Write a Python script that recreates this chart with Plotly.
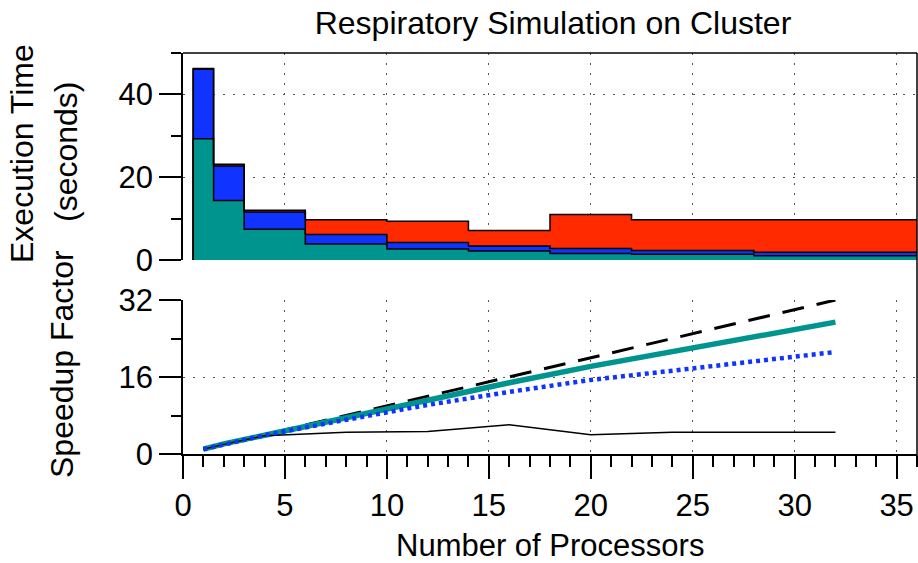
import plotly.graph_objects as go

# ---------------- data ----------------
procs = [1, 2, 4, 8, 12, 16, 20, 24, 32]
time_compute = [29.3, 14.4, 7.4, 3.85, 2.64, 2.16, 1.6, 1.37, 1.03]   # teal
time_second = [16.8, 8.3, 4.2, 2.3, 1.6, 1.2, 1.2, 0.93, 0.87]       # blue
time_comm = [0.15, 0.4, 0.4, 3.6, 5.1, 3.74, 8.2, 7.4, 7.85]          # red

speedup_ideal = [1, 2, 4, 8, 12, 16, 20, 24, 32]
speedup_compute = [1, 2.1, 3.9, 7.6, 11.1, 14.8, 18.2, 21.3, 27.4]
speedup_second = [1, 2.0, 3.9, 7.1, 10.2, 12.9, 15.4, 17.3, 21.2]
speedup_total = [1, 2.0, 3.8, 4.5, 4.7, 6.1, 4.0, 4.5, 4.5]

x_ticks = [0, 5, 10, 15, 20, 25, 30, 35]
top_ticks = [0, 20, 40]
bottom_ticks = [0, 16, 32]

TEAL = "#00948f"
BLUE = "#1133ff"
RED = "#ff2a00"
FONT = "Liberation Sans, Arial, Helvetica, sans-serif"

W, H = 918, 563
L, R, T = 183, 1, 53
PLOT_BOTTOM = 454
B = H - PLOT_BOTTOM
PW, PH = W - L - R, H - T - B

# bin edges: midpoints between processor counts
edges = [procs[0] - (procs[1] - procs[0]) / 2]
for a, b in zip(procs[:-1], procs[1:]):
    edges.append((a + b) / 2)
edges.append(procs[-1] + (procs[-1] - procs[-2]) / 2)

cum1 = list(time_compute)
cum2 = [a + b for a, b in zip(time_compute, time_second)]
cum3 = [a + b + c for a, b, c in zip(time_compute, time_second, time_comm)]

xs = [edges[0]] + edges


def step_y(vals):
    return [0] + list(vals) + [vals[-1]]


def px_x(sx):  # screen x -> paper x
    return (sx - L) / PW


def px_y(sy):  # screen y -> paper y
    return (PLOT_BOTTOM - sy) / PH


fig = go.Figure()
for vals, col, fill in [(cum1, TEAL, "tozeroy"), (cum2, BLUE, "tonexty"), (cum3, RED, "tonexty")]:
    fig.add_trace(go.Scatter(
        x=xs, y=step_y(vals), mode="lines", line=dict(shape="hv", color="black", width=1.5),
        fill=fill, fillcolor=col, xaxis="x", yaxis="y", showlegend=False, hoverinfo="skip"))

# speedup lines
fig.add_trace(go.Scatter(x=procs, y=speedup_ideal, mode="lines",
                         line=dict(color="black", width=3, dash="22px,13px"),
                         xaxis="x2", yaxis="y2", showlegend=False))
fig.add_trace(go.Scatter(x=procs, y=speedup_compute, mode="lines",
                         line=dict(color=TEAL, width=5.5),
                         xaxis="x2", yaxis="y2", showlegend=False))
fig.add_trace(go.Scatter(x=procs, y=speedup_total, mode="lines",
                         line=dict(color="black", width=1.5),
                         xaxis="x2", yaxis="y2", showlegend=False))
fig.add_trace(go.Scatter(x=procs, y=speedup_second, mode="lines",
                         line=dict(color=BLUE, width=4.5, dash="4px,4px"),
                         xaxis="x2", yaxis="y2", showlegend=False))

grid = dict(showgrid=True, gridcolor="#555555", gridwidth=1, griddash="1.5px,8.5px")
tickfont = dict(family=FONT, size=31, color="black")

top_dom = [px_y(260), 1.0]
bot_dom = [0.0, px_y(300)]

fig.update_layout(
    width=W, height=H,
    margin=dict(l=L, r=R, t=T, b=B),
    paper_bgcolor="white", plot_bgcolor="white",
    font=dict(family=FONT, color="black"),
    title=dict(text="Respiratory Simulation on Cluster", x=553 / W, xanchor="center",
               y=1 - 23 / H, yanchor="middle", font=dict(family=FONT, size=32, color="black")),
    xaxis=dict(domain=[0, 1], anchor="y", range=[0, 36], tickvals=x_ticks, showticklabels=False,
               ticks="", showline=False, zeroline=False, **grid),
    yaxis=dict(domain=top_dom, anchor="x", range=[0, 50], tickvals=top_ticks, ticks="outside",
               ticklen=22, tickwidth=1.5, tickcolor="black", showline=True, linecolor="black",
               linewidth=1.5, zeroline=False, tickfont=tickfont,
               minor=dict(dtick=10, tick0=0, ticks="outside", ticklen=10, tickwidth=1.5,
                          tickcolor="black", showgrid=False),
               **grid),
    xaxis2=dict(domain=[0, 1], anchor="y2", range=[0, 36], tickvals=x_ticks, ticks="outside",
                ticklen=23, tickwidth=1.5, tickcolor="black", showline=True, linecolor="black",
                linewidth=1.5, zeroline=False, tickfont=tickfont,
                minor=dict(dtick=1, tick0=0, ticks="outside", ticklen=11, tickwidth=1.5,
                           tickcolor="black", showgrid=False),
                **grid),
    yaxis2=dict(domain=bot_dom, anchor="x2", range=[0, 32], tickvals=bottom_ticks, ticks="outside",
                ticklen=22, tickwidth=1.5, tickcolor="black", showline=True, linecolor="black",
                linewidth=1.5, zeroline=False, tickfont=tickfont,
                minor=dict(dtick=8, tick0=0, ticks="outside", ticklen=10, tickwidth=1.5,
                           tickcolor="black", showgrid=False),
                **grid),
)

# frame lines (top of upper panel, right edge)
fig.add_shape(type="line", xref="paper", yref="paper", x0=0, x1=1, y0=1, y1=1,
              line=dict(color="black", width=1.5))
fig.add_shape(type="line", xref="paper", yref="paper", x0=1, x1=1, y0=px_y(465), y1=1,
              line=dict(color="black", width=1.5))

ann_font = dict(family=FONT, size=32, color="black")
fig.add_annotation(text="Number of Processors", xref="paper", yref="paper",
                   x=px_x(550), y=px_y(545), xanchor="center", yanchor="middle",
                   showarrow=False, font=dict(family=FONT, size=31, color="black"))
fig.add_annotation(text="Execution Time", xref="paper", yref="paper",
                   x=px_x(22), y=px_y(154), xanchor="center", yanchor="middle",
                   textangle=-90, showarrow=False, font=ann_font)
fig.add_annotation(text="(seconds)", xref="paper", yref="paper",
                   x=px_x(66), y=px_y(152), xanchor="center", yanchor="middle",
                   textangle=-90, showarrow=False, font=ann_font)
fig.add_annotation(text="Speedup Factor", xref="paper", yref="paper",
                   x=px_x(62), y=px_y(364), xanchor="center", yanchor="middle",
                   textangle=-90, showarrow=False, font=ann_font)

# remove the default 8px page margin so the figure fills the window exactly
fig.write_html("out.html", config={"displayModeBar": False},
               post_script="document.body.style.margin='0px';")
